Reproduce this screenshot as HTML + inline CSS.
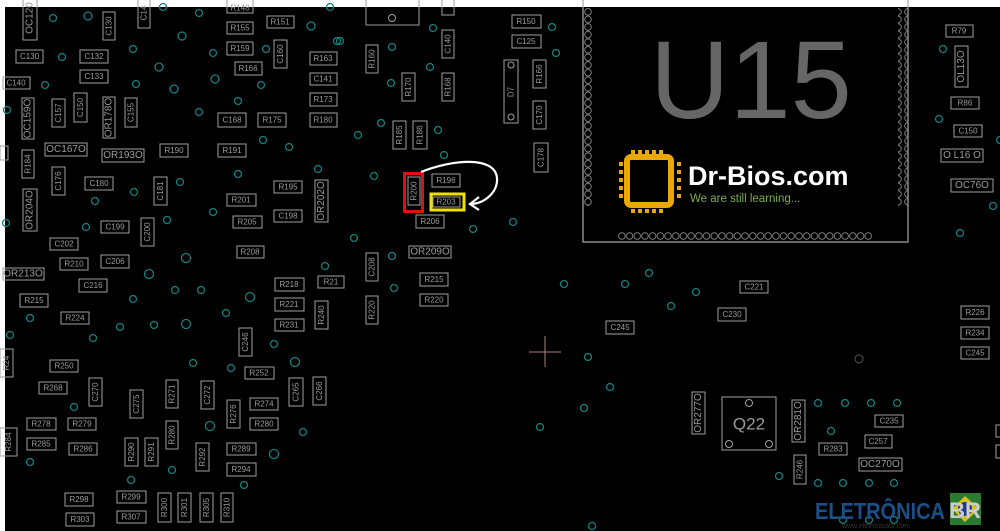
<!DOCTYPE html>
<html><head><meta charset="utf-8"><style>
html,body{margin:0;padding:0;background:#000}
svg{display:block}
.b{fill:none;stroke:#a0a0a0;stroke-width:1}
.t{fill:#9a9a9a;font-family:"Liberation Sans",sans-serif;text-anchor:middle;dominant-baseline:central}
.c{fill:none;stroke:#138080;stroke-width:1.3}
</style></head><body>
<svg width="1000" height="531" viewBox="0 0 1000 531" xmlns="http://www.w3.org/2000/svg" font-size="8">
<defs>
<pattern id="pv" x="583" y="8" width="10" height="7.6" patternUnits="userSpaceOnUse"><circle cx="5" cy="3.8" r="3.3" fill="none" stroke="#888" stroke-width="0.9"/></pattern>
<pattern id="ph" x="618" y="232" width="7.7" height="8" patternUnits="userSpaceOnUse"><circle cx="3.85" cy="4" r="3.3" fill="none" stroke="#888" stroke-width="0.9"/></pattern>
</defs>
<rect width="1000" height="531" fill="#000"/>
<rect x="0" y="0" width="1000" height="7" fill="#fff"/>
<rect x="0" y="0" width="5" height="531" fill="#fff"/>

<!-- U15 -->
<rect x="583" y="-2" width="325" height="244" fill="none" stroke="#aaa" stroke-width="1.2"/>
<rect x="583" y="8" width="10" height="198" fill="url(#pv)"/>
<rect x="898" y="8" width="10" height="198" fill="url(#pv)"/>
<rect x="618" y="232" width="254" height="8" fill="url(#ph)"/>
<text x="650" y="118" font-family="Liberation Sans,sans-serif" font-size="110" fill="#666">U15</text>

<!-- Dr-Bios logo -->
<g fill="#e8a800">
<rect x="627" y="157" width="44" height="48" rx="4" fill="none" stroke="#e8a800" stroke-width="6"/>
<rect x="631" y="150" width="4" height="4"/><rect x="638" y="150" width="4" height="4"/><rect x="645" y="150" width="4" height="4"/><rect x="652" y="150" width="4" height="4"/><rect x="659" y="150" width="4" height="4"/>
<rect x="631" y="209" width="4" height="4"/><rect x="638" y="209" width="4" height="4"/><rect x="645" y="209" width="4" height="4"/><rect x="652" y="209" width="4" height="4"/><rect x="659" y="209" width="4" height="4"/>
<rect x="619" y="162" width="4" height="4"/><rect x="619" y="170" width="4" height="4"/><rect x="619" y="178" width="4" height="4"/><rect x="619" y="186" width="4" height="4"/><rect x="619" y="194" width="4" height="4"/>
<rect x="677" y="162" width="4" height="4"/><rect x="677" y="170" width="4" height="4"/><rect x="677" y="178" width="4" height="4"/><rect x="677" y="186" width="4" height="4"/><rect x="677" y="194" width="4" height="4"/>
</g>
<text x="688" y="185" font-family="Liberation Sans,sans-serif" font-size="27" font-weight="bold" fill="#fff">Dr-Bios.com</text>
<text x="690" y="202" font-family="Liberation Sans,sans-serif" font-size="11.5" fill="#7ab04a">We are still learning...</text>

<!-- crosshair -->
<path d="M529 352H561M545 336V367" stroke="#b08080" stroke-width="1"/>
<circle cx="859" cy="359" r="4" fill="none" stroke="#555" stroke-width="1"/>

<!-- Q22 -->
<rect x="722" y="397" width="54" height="53" class="b"/>
<circle cx="749" cy="403" r="3.5" class="b"/><circle cx="729" cy="444" r="3.5" class="b"/><circle cx="769" cy="444" r="3.5" class="b"/>
<text x="749" y="424" class="t" font-size="17">Q22</text>

<!-- large top box -->
<rect x="366" y="-2" width="53" height="27" class="b"/><circle cx="392" cy="18" r="3.5" class="b"/>
<!-- D7 -->
<rect x="504" y="60" width="14" height="63" class="b"/><circle cx="511" cy="65" r="3" class="b"/><circle cx="511" cy="117" r="3" class="b"/>
<text class="t" transform="translate(511,92) rotate(-90)">D7</text>

<!-- horizontal components -->
<g>
<rect class="b" x="16" y="50" width="27" height="13"/><text class="t" x="29.5" y="56.5">C130</text>
<rect class="b" x="80" y="50" width="28" height="13"/><text class="t" x="94" y="56.5">C132</text>
<rect class="b" x="80" y="70" width="28" height="13"/><text class="t" x="94" y="76.5">C133</text>
<rect class="b" x="3" y="77" width="27" height="12"/><text class="t" x="16" y="83">C140</text>
<rect class="b" x="227" y="-3" width="26" height="16"/><text class="t" x="240" y="8">R148</text>
<rect class="b" x="227" y="22" width="26" height="12"/><text class="t" x="240" y="28">R155</text>
<rect class="b" x="267" y="16" width="27" height="12"/><text class="t" x="280" y="22">R151</text>
<rect class="b" x="227" y="42" width="26" height="13"/><text class="t" x="240" y="48.5">R159</text>
<rect class="b" x="235" y="62" width="27" height="13"/><text class="t" x="248" y="68.5">R166</text>
<rect class="b" x="310" y="52" width="27" height="13"/><text class="t" x="323" y="58.5">R163</text>
<rect class="b" x="310" y="73" width="27" height="12"/><text class="t" x="323" y="79">C141</text>
<rect class="b" x="310" y="93" width="27" height="13"/><text class="t" x="323" y="99.5">R173</text>
<rect class="b" x="218" y="113" width="28" height="14"/><text class="t" x="232" y="120">C168</text>
<rect class="b" x="258" y="113" width="28" height="14"/><text class="t" x="272" y="120">R175</text>
<rect class="b" x="310" y="113" width="27" height="14"/><text class="t" x="323" y="120">R180</text>
<rect class="b" x="45" y="143" width="42" height="13"/><text class="t" x="66" y="149.5" font-size="10">OC167O</text>
<rect class="b" x="102" y="149" width="42" height="13"/><text class="t" x="123" y="155.5" font-size="10">OR193O</text>
<rect class="b" x="160" y="144" width="28" height="13"/><text class="t" x="174" y="150.5">R190</text>
<rect class="b" x="218" y="144" width="28" height="13"/><text class="t" x="232" y="150.5">R191</text>
<rect class="b" x="0" y="146" width="8" height="14"/>
<rect class="b" x="85" y="177" width="28" height="13"/><text class="t" x="99" y="183.5">C180</text>
<rect class="b" x="274" y="181" width="28" height="12"/><text class="t" x="288" y="187">R195</text>
<rect class="b" x="227" y="194" width="29" height="12"/><text class="t" x="241" y="200">R201</text>
<rect class="b" x="274" y="210" width="28" height="12"/><text class="t" x="288" y="216">C198</text>
<rect class="b" x="233" y="216" width="29" height="12"/><text class="t" x="247" y="222">R205</text>
<rect class="b" x="101" y="221" width="28" height="12"/><text class="t" x="115" y="227">C199</text>
<rect class="b" x="50" y="238" width="28" height="12"/><text class="t" x="64" y="244">C202</text>
<rect class="b" x="60" y="258" width="28" height="12"/><text class="t" x="74" y="264">R210</text>
<rect class="b" x="101" y="255" width="28" height="13"/><text class="t" x="115" y="261.5">C206</text>
<rect class="b" x="237" y="246" width="27" height="12"/><text class="t" x="250" y="252">R208</text>
<rect class="b" x="3" y="268" width="41" height="12"/><text class="t" x="23" y="274" font-size="10">OR213O</text>
<rect class="b" x="79" y="279" width="28" height="13"/><text class="t" x="93" y="285.5">C216</text>
<rect class="b" x="20" y="294" width="28" height="13"/><text class="t" x="34" y="300.5">R215</text>
<rect class="b" x="275" y="278" width="29" height="13"/><text class="t" x="289" y="284.5">R218</text>
<rect class="b" x="318" y="276" width="26" height="12"/><text class="t" x="331" y="282">R21</text>
<rect class="b" x="275" y="298" width="29" height="13"/><text class="t" x="289" y="304.5">R221</text>
<rect class="b" x="61" y="312" width="28" height="12"/><text class="t" x="75" y="318">R224</text>
<rect class="b" x="275" y="319" width="29" height="12"/><text class="t" x="289" y="325">R231</text>
<rect class="b" x="50" y="360" width="28" height="12"/><text class="t" x="64" y="366">R250</text>
<rect class="b" x="245" y="367" width="29" height="12"/><text class="t" x="259" y="373">R252</text>
<rect class="b" x="39" y="382" width="28" height="12"/><text class="t" x="53" y="388">R268</text>
<rect class="b" x="250" y="398" width="28" height="12"/><text class="t" x="264" y="404">R274</text>
<rect class="b" x="27" y="418" width="29" height="12"/><text class="t" x="41" y="424">R278</text>
<rect class="b" x="68" y="418" width="28" height="12"/><text class="t" x="82" y="424">R279</text>
<rect class="b" x="250" y="418" width="28" height="12"/><text class="t" x="264" y="424">R280</text>
<rect class="b" x="27" y="438" width="29" height="12"/><text class="t" x="41" y="444">R285</text>
<rect class="b" x="69" y="443" width="28" height="12"/><text class="t" x="83" y="449">R286</text>
<rect class="b" x="227" y="443" width="29" height="12"/><text class="t" x="241" y="449">R289</text>
<rect class="b" x="227" y="463" width="29" height="13"/><text class="t" x="241" y="469.5">R294</text>
<rect class="b" x="65" y="493" width="28" height="13"/><text class="t" x="79" y="499.5">R298</text>
<rect class="b" x="117" y="491" width="29" height="12"/><text class="t" x="131" y="497">R299</text>
<rect class="b" x="66" y="513" width="28" height="13"/><text class="t" x="80" y="519.5">R303</text>
<rect class="b" x="117" y="511" width="29" height="12"/><text class="t" x="131" y="517">R307</text>
<rect class="b" x="512" y="15" width="29" height="13"/><text class="t" x="526" y="21.5">R150</text>
<rect class="b" x="512" y="35" width="29" height="13"/><text class="t" x="526" y="41.5">C125</text>
<rect class="b" x="432" y="174" width="28" height="13"/><text class="t" x="446" y="180.5">R196</text>
<rect class="b" x="433" y="197" width="27" height="10"/><text class="t" x="446" y="202">R203</text>
<rect class="b" x="416" y="215" width="28" height="13"/><text class="t" x="430" y="221.5">R206</text>
<rect class="b" x="409" y="246" width="42" height="12"/><text class="t" x="430" y="252" font-size="10">OR209O</text>
<rect class="b" x="420" y="273" width="28" height="13"/><text class="t" x="434" y="279.5">R215</text>
<rect class="b" x="420" y="294" width="28" height="12"/><text class="t" x="434" y="300">R220</text>
<rect class="b" x="606" y="321" width="28" height="13"/><text class="t" x="620" y="327.5">C245</text>
<rect class="b" x="740" y="281" width="28" height="12"/><text class="t" x="754" y="287">C221</text>
<rect class="b" x="718" y="308" width="28" height="13"/><text class="t" x="732" y="314.5">C230</text>
<rect class="b" x="961" y="306" width="28" height="13"/><text class="t" x="975" y="312.5">R226</text>
<rect class="b" x="961" y="327" width="28" height="12"/><text class="t" x="975" y="333">R234</text>
<rect class="b" x="961" y="347" width="28" height="12"/><text class="t" x="975" y="353">C245</text>
<rect class="b" x="946" y="25" width="27" height="12"/><text class="t" x="959" y="31">R79</text>
<rect class="b" x="951" y="97" width="28" height="12"/><text class="t" x="965" y="103">R86</text>
<rect class="b" x="954" y="125" width="28" height="12"/><text class="t" x="968" y="131">C150</text>
<rect class="b" x="941" y="149" width="42" height="13"/><text class="t" x="962" y="155.5" font-size="10">O L16 O</text>
<rect class="b" x="951" y="179" width="42" height="13"/><text class="t" x="972" y="185.5" font-size="10">OC76O</text>
<rect class="b" x="875" y="415" width="28" height="12"/><text class="t" x="889" y="421">C235</text>
<rect class="b" x="865" y="435" width="27" height="13"/><text class="t" x="878" y="441.5">C257</text>
<rect class="b" x="819" y="443" width="28" height="12"/><text class="t" x="833" y="449">R283</text>
<rect class="b" x="859" y="458" width="43" height="13"/><text class="t" x="880" y="464.5" font-size="10">OC270O</text>
<rect class="b" x="996" y="425" width="8" height="12"/><rect class="b" x="996" y="445" width="8" height="13"/>
</g>

<!-- vertical components -->
<g>
<rect class="b" x="23" y="-3" width="14" height="43"/><text class="t" transform="translate(30,18) rotate(-90)" font-size="10">OC120</text>
<rect class="b" x="103" y="12" width="12" height="28"/><text class="t" transform="translate(109,26) rotate(-90)">C130</text>
<rect class="b" x="138" y="-3" width="12" height="31"/><text class="t" transform="translate(144,13) rotate(-90)">C14</text>
<rect class="b" x="274" y="40" width="13" height="28"/><text class="t" transform="translate(280.5,54) rotate(-90)">C160</text>
<rect class="b" x="22" y="98" width="12" height="41"/><text class="t" transform="translate(28,118.5) rotate(-90)" font-size="10">OC159O</text>
<rect class="b" x="52" y="99" width="13" height="28"/><text class="t" transform="translate(58.5,113) rotate(-90)">C157</text>
<rect class="b" x="74" y="93" width="13" height="29"/><text class="t" transform="translate(80.5,107.5) rotate(-90)">C150</text>
<rect class="b" x="103" y="97" width="12" height="41"/><text class="t" transform="translate(109,117.5) rotate(-90)" font-size="10">OR178O</text>
<rect class="b" x="125" y="98" width="12" height="29"/><text class="t" transform="translate(131,112.5) rotate(-90)">C155</text>
<rect class="b" x="22" y="150" width="12" height="28"/><text class="t" transform="translate(28,164) rotate(-90)">R184</text>
<rect class="b" x="52" y="167" width="13" height="28"/><text class="t" transform="translate(58.5,181) rotate(-90)">C176</text>
<rect class="b" x="154" y="177" width="13" height="28"/><text class="t" transform="translate(160.5,191) rotate(-90)">C181</text>
<rect class="b" x="23" y="189" width="14" height="42"/><text class="t" transform="translate(30,210) rotate(-90)" font-size="10">OR204O</text>
<rect class="b" x="315" y="180" width="13" height="42"/><text class="t" transform="translate(321.5,201) rotate(-90)" font-size="10">OR202O</text>
<rect class="b" x="141" y="218" width="13" height="28"/><text class="t" transform="translate(147.5,232) rotate(-90)">C200</text>
<rect class="b" x="315" y="301" width="13" height="28"/><text class="t" transform="translate(321.5,315) rotate(-90)">R240</text>
<rect class="b" x="239" y="328" width="13" height="28"/><text class="t" transform="translate(245.5,342) rotate(-90)">C246</text>
<rect class="b" x="0" y="349" width="13" height="28"/><text class="t" transform="translate(6.5,363) rotate(-90)">R24</text>
<rect class="b" x="89" y="378" width="13" height="28"/><text class="t" transform="translate(95.5,392) rotate(-90)">C270</text>
<rect class="b" x="130" y="390" width="13" height="28"/><text class="t" transform="translate(136.5,404) rotate(-90)">C275</text>
<rect class="b" x="166" y="380" width="12" height="28"/><text class="t" transform="translate(172,394) rotate(-90)">R271</text>
<rect class="b" x="201" y="381" width="13" height="28"/><text class="t" transform="translate(207.5,395) rotate(-90)">C272</text>
<rect class="b" x="227" y="400" width="13" height="28"/><text class="t" transform="translate(233.5,414) rotate(-90)">R276</text>
<rect class="b" x="289" y="378" width="14" height="28"/><text class="t" transform="translate(296,392) rotate(-90)">C265</text>
<rect class="b" x="313" y="377" width="13" height="28"/><text class="t" transform="translate(319.5,391) rotate(-90)">C266</text>
<rect class="b" x="0" y="428" width="17" height="28"/><text class="t" transform="translate(8.5,442) rotate(-90)">R284</text>
<rect class="b" x="166" y="421" width="12" height="28"/><text class="t" transform="translate(172,435) rotate(-90)">R280</text>
<rect class="b" x="125" y="438" width="13" height="28"/><text class="t" transform="translate(131.5,452) rotate(-90)">R290</text>
<rect class="b" x="145" y="438" width="13" height="28"/><text class="t" transform="translate(151.5,452) rotate(-90)">R291</text>
<rect class="b" x="196" y="443" width="13" height="28"/><text class="t" transform="translate(202.5,457) rotate(-90)">R292</text>
<rect class="b" x="158" y="493" width="13" height="29"/><text class="t" transform="translate(164.5,507.5) rotate(-90)">R300</text>
<rect class="b" x="178" y="493" width="13" height="29"/><text class="t" transform="translate(184.5,507.5) rotate(-90)">R301</text>
<rect class="b" x="200" y="493" width="13" height="29"/><text class="t" transform="translate(206.5,507.5) rotate(-90)">R305</text>
<rect class="b" x="221" y="493" width="12" height="29"/><text class="t" transform="translate(227,507.5) rotate(-90)">R310</text>
<rect class="b" x="442" y="-3" width="12" height="18"/>
<rect class="b" x="442" y="30" width="12" height="28"/><text class="t" transform="translate(448,44) rotate(-90)">C140</text>
<rect class="b" x="366" y="45" width="12" height="28"/><text class="t" transform="translate(372,59) rotate(-90)">R160</text>
<rect class="b" x="402" y="73" width="13" height="28"/><text class="t" transform="translate(408.5,87) rotate(-90)">R170</text>
<rect class="b" x="442" y="73" width="12" height="28"/><text class="t" transform="translate(448,87) rotate(-90)">R168</text>
<rect class="b" x="533" y="60" width="13" height="28"/><text class="t" transform="translate(539.5,74) rotate(-90)">R166</text>
<rect class="b" x="533" y="101" width="13" height="28"/><text class="t" transform="translate(539.5,115) rotate(-90)">C170</text>
<rect class="b" x="393" y="121" width="13" height="28"/><text class="t" transform="translate(399.5,135) rotate(-90)">R185</text>
<rect class="b" x="413" y="121" width="14" height="28"/><text class="t" transform="translate(420,135) rotate(-90)">R186</text>
<rect class="b" x="534" y="143" width="14" height="29"/><text class="t" transform="translate(541,157.5) rotate(-90)">C178</text>
<rect class="b" x="408" y="177" width="12" height="28"/><text class="t" transform="translate(414,191) rotate(-90)">R200</text>
<rect class="b" x="366" y="253" width="12" height="28"/><text class="t" transform="translate(372,267) rotate(-90)">C208</text>
<rect class="b" x="366" y="296" width="12" height="28"/><text class="t" transform="translate(372,310) rotate(-90)">R220</text>
<rect class="b" x="955" y="46" width="13" height="41"/><text class="t" transform="translate(961.5,66.5) rotate(-90)" font-size="10">OL13O</text>
<rect class="b" x="692" y="392" width="13" height="42"/><text class="t" transform="translate(698.5,413) rotate(-90)" font-size="10">OR277O</text>
<rect class="b" x="792" y="400" width="13" height="42"/><text class="t" transform="translate(798.5,421) rotate(-90)" font-size="10">OR281O</text>
<rect class="b" x="794" y="455" width="12" height="29"/><text class="t" transform="translate(800,469.5) rotate(-90)">R246</text>
</g>

<!-- teal vias -->
<g class="c">
<circle cx="53" cy="18" r="3.5"/><circle cx="88" cy="16" r="4"/><circle cx="163" cy="7" r="3.5"/><circle cx="199" cy="13" r="3.5"/><circle cx="182" cy="36" r="4"/><circle cx="133" cy="49" r="3.5"/><circle cx="62" cy="57" r="3.5"/><circle cx="159" cy="67" r="4"/><circle cx="213" cy="53" r="3.5"/><circle cx="266" cy="49" r="3.5"/><circle cx="311" cy="26" r="4"/><circle cx="136" cy="84" r="3.5"/><circle cx="174" cy="89" r="4"/><circle cx="215" cy="79" r="4"/><circle cx="45" cy="85" r="3.5"/><circle cx="238" cy="101" r="3.5"/><circle cx="261" cy="85" r="3.5"/><circle cx="199" cy="112" r="3.5"/><circle cx="337" cy="41" r="3.5"/><circle cx="330" cy="7" r="3.5"/><circle cx="7" cy="110" r="3.5"/><circle cx="263" cy="140" r="3.5"/><circle cx="289" cy="147" r="3.5"/><circle cx="238" cy="174" r="3.5"/><circle cx="318" cy="169" r="3.5"/>
<circle cx="180" cy="182" r="3.5"/><circle cx="134" cy="192" r="3.5"/><circle cx="95" cy="201" r="3.5"/><circle cx="213" cy="212" r="3.5"/><circle cx="167" cy="220" r="3.5"/><circle cx="86" cy="227" r="3.5"/><circle cx="6" cy="223" r="3.5"/><circle cx="186" cy="258" r="4.5"/><circle cx="149" cy="274" r="4.5"/><circle cx="325" cy="266" r="3.5"/><circle cx="175" cy="290" r="3.5"/><circle cx="201" cy="290" r="3.5"/><circle cx="250" cy="297" r="4.5"/><circle cx="133" cy="299" r="3.5"/><circle cx="226" cy="313" r="3.5"/><circle cx="30" cy="318" r="3.5"/><circle cx="120" cy="327" r="3.5"/><circle cx="154" cy="325" r="3.5"/><circle cx="186" cy="324" r="4.5"/><circle cx="93" cy="338" r="3.5"/><circle cx="10" cy="335" r="3.5"/><circle cx="274" cy="344" r="3.5"/><circle cx="193" cy="363" r="3.5"/><circle cx="231" cy="368" r="3.5"/><circle cx="295" cy="362" r="4.5"/><circle cx="74" cy="407" r="3.5"/><circle cx="210" cy="426" r="4.5"/><circle cx="303" cy="432" r="3.5"/><circle cx="274" cy="454" r="4.5"/><circle cx="30" cy="462" r="3.5"/><circle cx="172" cy="470" r="3.5"/><circle cx="131" cy="480" r="3.5"/><circle cx="244" cy="485" r="3.5"/>
<circle cx="340" cy="41" r="3.5"/><circle cx="392" cy="47" r="3.5"/><circle cx="433" cy="28" r="3.5"/><circle cx="430" cy="67" r="3.5"/><circle cx="391" cy="83" r="3.5"/><circle cx="381" cy="123" r="3.5"/><circle cx="358" cy="135" r="3.5"/><circle cx="438" cy="130" r="3.5"/><circle cx="444" cy="155" r="3.5"/><circle cx="374" cy="176" r="3.5"/><circle cx="513" cy="222" r="3.5"/><circle cx="473" cy="229" r="3.5"/><circle cx="354" cy="238" r="3.5"/><circle cx="552" cy="27" r="3.5"/><circle cx="556" cy="53" r="3.5"/>
<circle cx="392" cy="256" r="3.5"/><circle cx="394" cy="288" r="3.5"/><circle cx="564" cy="284" r="3.5"/><circle cx="625" cy="284" r="3.5"/><circle cx="649" cy="273" r="3.5"/><circle cx="671" cy="306" r="3.5"/><circle cx="588" cy="357" r="3.5"/><circle cx="610" cy="387" r="3.5"/><circle cx="584" cy="408" r="3.5"/><circle cx="540" cy="427" r="3.5"/><circle cx="592" cy="526" r="3.5"/><circle cx="696" cy="292" r="3.5"/><circle cx="960" cy="233" r="3.5"/>
<circle cx="943" cy="49" r="3.5"/><circle cx="939" cy="119" r="3.5"/><circle cx="993" cy="206" r="3.5"/><circle cx="1000" cy="140" r="3.5"/>
<circle cx="818" cy="403" r="3.5"/><circle cx="845" cy="403" r="3.5"/><circle cx="871" cy="403" r="3.5"/><circle cx="897" cy="403" r="3.5"/><circle cx="831" cy="431" r="3.5"/><circle cx="779" cy="476" r="3.5"/><circle cx="818" cy="483" r="3.5"/><circle cx="843" cy="483" r="3.5"/><circle cx="869" cy="483" r="3.5"/><circle cx="894" cy="483" r="3.5"/><circle cx="843" cy="520" r="3.5"/><circle cx="869" cy="520" r="3.5"/><circle cx="894" cy="520" r="3.5"/>
</g>

<!-- highlights -->
<rect x="404.5" y="173.5" width="18" height="38" fill="none" stroke="#e01010" stroke-width="3"/>
<rect x="431" y="194" width="33" height="16" fill="none" stroke="#f0e000" stroke-width="3"/>
<path d="M421 172 C450 160 495 155 497 178 C498 192 485 203 472 204" fill="none" stroke="#fff" stroke-width="2.2"/>
<path d="M479 197 L470 204 L479 210" fill="none" stroke="#fff" stroke-width="2.2"/>

<!-- Eletronica BR -->
<text x="815" y="519" font-family="Liberation Sans,sans-serif" font-size="23" font-weight="bold" fill="#1a4f8a" textLength="130" lengthAdjust="spacingAndGlyphs">ELETRÔNICA</text>
<text x="842" y="528" font-family="Liberation Sans,sans-serif" font-size="7" fill="#333">www.eletronicabr.com</text>
<rect x="950" y="493" width="31" height="32" fill="#2a7a30"/>
<path d="M952 509 L965 496 L979 509 L965 522Z" fill="#d8c020"/>
<circle cx="965" cy="509" r="7" fill="#1c3c8c"/>
<text x="965" y="518" font-family="Liberation Sans,sans-serif" font-size="22" font-weight="bold" fill="#ccc" text-anchor="middle">BR</text>
</svg>
</body></html>
